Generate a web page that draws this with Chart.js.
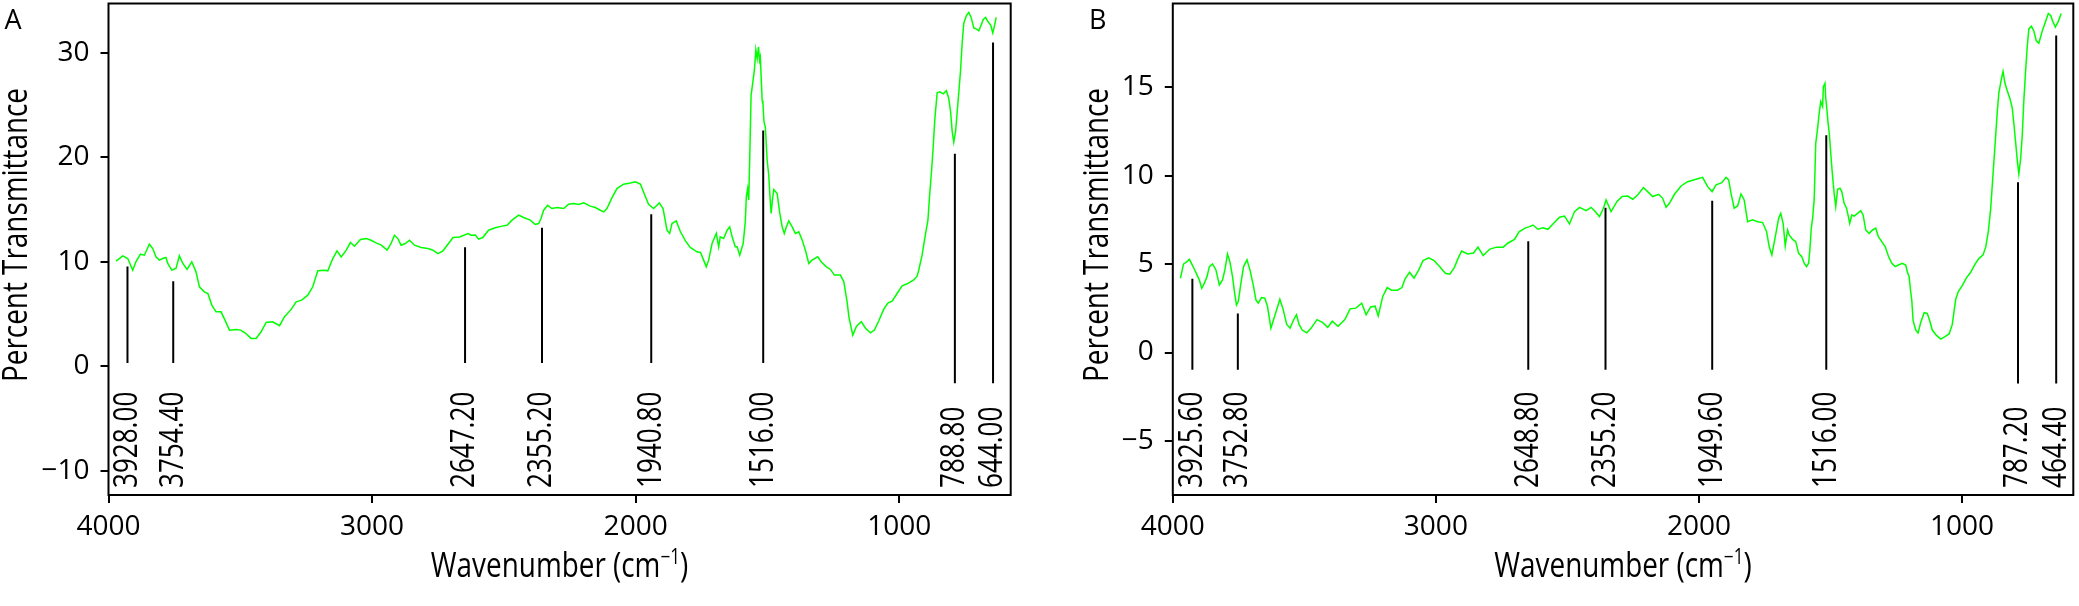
<!DOCTYPE html>
<html>
  <head>
    <meta charset="utf-8" />
    <title>IR spectra A and B</title>
    <style>
      body {
        margin: 0;
        padding: 0;
        background: #fff;
      }
      #wrap {
        position: relative;
        width: 2079px;
        height: 606px;
      }
      canvas {
        position: absolute;
        top: 0;
      }
      #chartA { left: 0; }
      #chartB { left: 1040px; }
    </style>
    <script src="https://cdn.jsdelivr.net/npm/chart.js"></script>
  </head>
  <body>
    <div id="wrap">
      <canvas id="chartA" width="1040" height="606"></canvas>
      <canvas id="chartB" width="1039" height="606"></canvas>
    </div>
    <script>
      // x axis tick values shared by both panels
      const waveTicks = [4000, 3000, 2000, 1000];

      // Panel A spectrum (wavenumber, % transmittance)
      const waveA = [
        3971, 3946, 3927, 3908, 3896, 3879, 3864, 3845, 3832, 3820,
        3807, 3794, 3782, 3775, 3760, 3744, 3731, 3718, 3702, 3684,
        3668, 3655, 3636, 3623, 3608, 3592, 3573, 3558, 3541, 3516,
        3499, 3482, 3459, 3440, 3421, 3402, 3377, 3351, 3332, 3307,
        3288, 3267, 3244, 3225, 3206, 3181, 3168, 3149, 3133, 3117,
        3098, 3082, 3067, 3044, 3022, 3004, 2985, 2965, 2943, 2928,
        2915, 2902, 2890, 2874, 2858, 2839, 2814, 2788, 2769, 2750,
        2731, 2712, 2693, 2668, 2636, 2624, 2608, 2596, 2580, 2558,
        2533, 2507, 2488, 2469, 2444, 2425, 2400, 2381, 2368, 2359,
        2349, 2334, 2318, 2296, 2273, 2254, 2235, 2216, 2197, 2172,
        2153, 2134, 2121, 2109, 2090, 2071, 2046, 2020, 2001, 1982,
        1970, 1951, 1932, 1910, 1896, 1881, 1871, 1862, 1846, 1830,
        1811, 1793, 1767, 1754, 1742, 1732, 1723, 1710, 1694, 1685,
        1679, 1666, 1653, 1643, 1634, 1622, 1615, 1605, 1592, 1584,
        1580, 1575, 1571, 1567, 1562, 1554, 1549, 1544, 1539, 1534,
        1530, 1527, 1520, 1517, 1513, 1508, 1501, 1495, 1491, 1486,
        1481, 1476, 1463, 1453, 1444, 1436, 1428, 1419, 1406, 1394,
        1381, 1368, 1356, 1343, 1331, 1309, 1296, 1276, 1261, 1246,
        1223, 1210, 1203, 1198, 1191, 1185, 1176, 1162, 1144, 1128,
        1109, 1094, 1077, 1058, 1043, 1027, 1008, 989, 970, 945,
        932, 926, 913, 900, 891, 884, 877, 871, 865, 856,
        846, 833, 821, 812, 805, 799, 793, 786, 780, 774,
        767, 761, 755, 745, 736, 727, 717, 707, 698, 691,
        681, 672, 664, 653, 645, 638, 632
      ];
      const transA = [
        10.06, 10.57, 10.31, 9.2, 10.0, 10.73, 10.63, 11.68, 11.27, 10.47,
        10.16, 10.31, 10.41, 9.84, 9.2, 9.36, 10.57, 9.84, 9.27, 10.0,
        9.04, 7.61, 7.13, 6.97, 5.86, 5.22, 5.22, 4.43, 3.47, 3.54,
        3.47, 3.22, 2.68, 2.68, 3.31, 4.2, 4.27, 3.89, 4.75, 5.45,
        6.18, 6.34, 6.81, 7.61, 9.14, 9.2, 9.14, 10.31, 11.05, 10.47,
        11.11, 11.84, 11.49, 12.13, 12.22, 12.06, 11.81, 11.59, 11.11, 11.75,
        12.54, 12.22, 11.59, 11.75, 12.06, 11.59, 11.36, 11.27, 11.11, 10.79,
        11.05, 11.68, 12.32, 12.38, 12.7, 12.54, 12.55, 12.16, 12.32, 13.02,
        13.25, 13.41, 13.5, 13.98, 14.46, 14.23, 13.98, 13.57, 13.66, 14.14,
        14.93, 15.41, 15.09, 15.19, 15.09, 15.5, 15.57, 15.47, 15.63, 15.32,
        15.19, 14.93, 14.77, 15.09, 16.11, 17.0, 17.42, 17.54, 17.64, 17.42,
        16.68, 15.5, 15.09, 15.63, 15.09, 13.02, 12.71, 13.66, 13.91, 12.87,
        12.0, 11.37, 10.96, 10.89, 10.16, 9.52, 10.16, 11.75, 12.71, 11.43,
        12.39, 12.23, 13.02, 13.34, 12.39, 11.43, 11.43, 10.64, 11.75, 13.82,
        16.21, 17.0, 15.89, 20.02, 25.91, 27.41, 28.46, 30.27, 29.41, 30.53,
        29.25, 29.57, 25.43, 25.12, 23.37, 22.89, 19.71, 18.27, 16.52, 14.62,
        15.89, 16.91, 16.52, 14.62, 13.34, 12.71, 13.34, 13.91, 13.34, 12.71,
        12.87, 12.07, 11.11, 9.84, 10.16, 10.48, 10.0, 9.52, 9.27, 8.73,
        8.73, 8.09, 6.98, 6.24, 4.76, 4.02, 2.99, 3.84, 4.28, 3.65,
        3.21, 3.47, 4.39, 5.5, 6.05, 6.24, 6.97, 7.71, 7.9, 8.27,
        8.63, 9.19, 10.66, 12.69, 13.99, 16.57, 18.78, 21.0, 23.58, 26.16,
        26.24, 26.05, 26.35, 25.61, 24.32, 22.47, 21.44, 22.47, 24.32, 26.16,
        28.38, 30.96, 32.8, 33.54, 33.84, 33.36, 32.36, 32.25, 32.07, 32.51,
        33.17, 33.36, 32.99, 32.62, 31.88, 32.62, 33.36
      ];
      // Panel A peak markers
      const peakPosA = [3928, 3754.4, 2647.2, 2355.2, 1940.8, 1516, 788.8, 644];
      const peakTopA = [9.56, 8.15, 11.4, 13.25, 14.54, 22.55, 20.33, 30.96];
      const peakBottomA = [0.33, 0.33, 0.33, 0.33, 0.33, 0.33, -1.62, -1.62];
      const peakTextA = ["3928.00", "3754.40", "2647.20", "2355.20", "1940.80", "1516.00", "788.80", "644.00"];

      // Panel B spectrum
      const waveB = [
        3971, 3959, 3946, 3937, 3928, 3918, 3908, 3899, 3890, 3880,
        3870, 3861, 3849, 3836, 3823, 3811, 3802, 3792, 3783, 3773,
        3764, 3758, 3751, 3741, 3731, 3718, 3706, 3693, 3684, 3675,
        3663, 3650, 3640, 3627, 3618, 3604, 3593, 3581, 3567, 3554,
        3542, 3530, 3520, 3508, 3491, 3474, 3452, 3431, 3411, 3394,
        3372, 3346, 3326, 3304, 3282, 3265, 3248, 3231, 3219, 3202,
        3185, 3168, 3146, 3129, 3117, 3100, 3083, 3066, 3049, 3027,
        3007, 2986, 2964, 2947, 2930, 2913, 2902, 2879, 2857, 2840,
        2820, 2795, 2769, 2744, 2727, 2701, 2684, 2659, 2644, 2631,
        2612, 2593, 2574, 2555, 2530, 2511, 2492, 2473, 2454, 2429,
        2410, 2397, 2378, 2363, 2353, 2334, 2312, 2292, 2271, 2252,
        2233, 2211, 2195, 2176, 2153, 2138, 2125, 2112, 2093, 2068,
        2043, 2011, 1986, 1967, 1950, 1935, 1913, 1897, 1887, 1878,
        1866, 1853, 1840, 1828, 1815, 1796, 1777, 1758, 1743, 1733,
        1723, 1714, 1705, 1697, 1689, 1680, 1672, 1663, 1657, 1644,
        1632, 1621, 1609, 1600, 1591, 1583, 1578, 1573, 1568, 1562,
        1556, 1549, 1543, 1537, 1530, 1527, 1521, 1518, 1514, 1509,
        1504, 1499, 1492, 1486, 1480, 1473, 1464, 1457, 1448, 1439,
        1432, 1427, 1419, 1410, 1397, 1385, 1376, 1366, 1353, 1340,
        1328, 1318, 1305, 1292, 1280, 1267, 1254, 1242, 1227, 1214,
        1208, 1201, 1196, 1191, 1186, 1176, 1167, 1157, 1144, 1132,
        1123, 1113, 1098, 1081, 1065, 1049, 1037, 1024, 1014, 999,
        984, 967, 951, 936, 920, 910, 900, 891, 885, 879,
        872, 866, 860, 849, 844, 837, 828, 818, 809, 803,
        796, 790, 784, 777, 771, 765, 758, 752, 746, 736,
        727, 718, 708, 695, 682, 672, 663, 655, 645, 634,
        623
      ];
      const transB = [
        4.2, 5.01, 5.14, 5.27, 5.01, 4.71, 4.39, 4.1, 3.63, 3.92,
        4.29, 4.86, 5.01, 4.67, 3.82, 4.1, 4.67, 5.57, 5.14, 4.29,
        3.26, 2.69, 2.88, 3.92, 4.86, 5.24, 4.63, 3.73, 2.97, 2.79,
        3.11, 3.07, 2.6, 1.38, 1.81, 2.47, 3.01, 2.47, 1.59, 1.38,
        1.81, 2.14, 1.59, 1.27, 1.11, 1.38, 1.86, 1.7, 1.42, 1.77,
        1.48, 1.86, 2.47, 2.51, 2.79, 2.14, 2.58, 2.62, 2.07, 3.17,
        3.67, 3.52, 3.52, 3.67, 4.17, 4.54, 4.21, 4.65, 5.2, 5.35,
        5.2, 4.87, 4.48, 4.43, 4.8, 5.41, 5.74, 5.57, 5.63, 5.96,
        5.48, 5.85, 5.96, 5.96, 6.18, 6.4, 6.83, 7.05, 7.12, 7.21,
        6.97, 7.06, 6.97, 7.27, 7.65, 7.72, 7.27, 7.97, 8.21, 8.02,
        8.21, 8.02, 7.69, 8.16, 8.63, 7.97, 8.53, 8.82, 8.85, 8.67,
        8.91, 9.33, 9.1, 8.82, 8.95, 8.72, 8.21, 8.44, 8.95, 9.42,
        9.66, 9.8, 9.91, 9.38, 9.1, 9.48, 9.61, 9.91, 9.76, 9.0,
        8.16, 8.29, 8.97, 8.63, 7.4, 7.5, 7.4, 7.35, 6.84, 5.99,
        5.52, 6.21, 6.93, 7.59, 7.87, 7.31, 6.03, 6.93, 6.65, 6.4,
        6.27, 5.61, 5.42, 5.05, 4.86, 5.05, 5.89, 7.03, 7.59, 8.63,
        11.83, 12.68, 13.53, 14.19, 13.91, 15.04, 15.23, 14.38, 13.81, 12.96,
        12.3, 11.27, 9.95, 9.0, 8.25, 9.23, 9.29, 9.1, 8.44, 8.16,
        7.69, 7.31, 7.78, 7.72, 7.87, 8.02, 7.78, 6.93, 6.74, 6.93,
        7.03, 6.55, 6.27, 5.99, 5.46, 5.05, 4.86, 4.95, 5.05, 4.95,
        4.57, 4.29, 3.54, 2.97, 1.81, 1.27, 1.11, 1.7, 2.25, 2.21,
        1.81, 1.27, 0.98, 0.76, 0.9, 1.05, 1.59, 3.01, 3.45, 3.78,
        4.21, 4.54, 4.98, 5.31, 5.52, 5.96, 6.83, 8.14, 9.45, 10.76,
        12.29, 13.6, 14.69, 15.57, 15.9, 15.24, 14.8, 14.37, 13.82, 12.95,
        11.86, 10.87, 10.11, 10.98, 12.29, 14.26, 16.0, 17.31, 18.3, 18.45,
        18.19, 17.64, 17.49, 18.19, 18.73, 19.17, 19.06, 18.73, 18.41, 18.73,
        19.17
      ];
      // Panel B peak markers (the last marker sits near 642 on the axis)
      const peakPosB = [3925.6, 3752.8, 2648.8, 2355.2, 1949.6, 1516, 787.2, 642];
      const peakTopB = [4.17, 2.21, 6.29, 8.19, 8.58, 12.29, 9.63, 17.93];
      const peakBottomB = [-0.98, -0.98, -0.98, -0.98, -0.98, -0.98, -1.75, -1.75];
      const peakTextB = ["3925.60", "3752.80", "2648.80", "2355.20", "1949.60", "1516.00", "787.20", "464.40"];

      const FONT = '"Open Sans", "Noto Sans", sans-serif';

      function makeDecor(cfg) {
        return {
          id: "decor",
          afterDatasetsDraw(chart) {
            const { ctx, chartArea: a, scales } = chart;
            const x = scales.x;
            ctx.save();
            ctx.strokeStyle = "#000";
            ctx.lineWidth = 2;
            ctx.strokeRect(a.left, a.top, a.right - a.left, a.bottom - a.top);

            // rotated peak labels
            ctx.fillStyle = "#000";
            ctx.font = "33px " + FONT;
            ctx.textAlign = "left";
            ctx.textBaseline = "middle";
            cfg.peakPos.forEach((p, i) => {
              ctx.save();
              ctx.translate(x.getPixelForValue(p), a.bottom - 7);
              ctx.rotate(-Math.PI / 2);
              ctx.scale(0.79, 1);
              ctx.fillText(cfg.peakText[i], 0, 0);
              ctx.restore();
            });

            // y title
            ctx.save();
            ctx.font = "34px " + FONT;
            ctx.textAlign = "center";
            ctx.textBaseline = "alphabetic";
            ctx.translate(cfg.yTitleX, 235);
            ctx.rotate(-Math.PI / 2);
            ctx.scale(0.82, 1);
            ctx.fillText("Percent Transmittance", 0, 0);
            ctx.restore();

            // x title with superscript
            ctx.save();
            ctx.textBaseline = "alphabetic";
            ctx.textAlign = "left";
            const big = "34px " + FONT, small = "21px " + FONT;
            const p1 = "Wavenumber (cm", p2 = "\u22121", p3 = ")";
            ctx.font = big;
            const w1 = ctx.measureText(p1).width, w3 = ctx.measureText(p3).width;
            ctx.font = small;
            const w2 = ctx.measureText(p2).width;
            const sx = 0.82;
            const total = (w1 + w2 + w3) * sx;
            ctx.translate((a.left + a.right) / 2 - total / 2, 577);
            ctx.scale(sx, 1);
            ctx.font = big;
            ctx.fillText(p1, 0, 0);
            ctx.font = small;
            ctx.fillText(p2, w1, -13);
            ctx.font = big;
            ctx.fillText(p3, w1 + w2, 0);
            ctx.restore();

            // panel letter
            ctx.font = "27px " + FONT;
            ctx.textAlign = "left";
            ctx.textBaseline = "alphabetic";
            ctx.fillText(cfg.letter, cfg.letterX, 29);
            ctx.restore();
          },
        };
      }

      function makeChart(id, cfg) {
        const spectrum = cfg.wave.map((w, i) => ({ x: w, y: cfg.trans[i] }));
        const marks = [];
        cfg.peakPos.forEach((p, i) => {
          marks.push({ x: p, y: cfg.peakBottom[i] }, { x: p, y: cfg.peakTop[i] }, { x: p, y: null });
        });
        const tickGrid = {
          drawOnChartArea: false,
          drawTicks: true,
          tickLength: 8,
          color: "#000",
          lineWidth: 2,
        };
        return new Chart(document.getElementById(id), {
          type: "line",
          data: {
            datasets: [
              {
                label: "peaks",
                data: marks,
                borderColor: "#000",
                borderWidth: 2,
                pointRadius: 0,
                spanGaps: false,
              },
              {
                label: "spectrum",
                data: spectrum,
                borderColor: "rgb(0, 255, 0)",
                borderWidth: 1.5,
                pointRadius: 0,
                tension: 0,
              },
            ],
          },
          options: {
            responsive: false,
            animation: false,
            events: [],
            layout: { padding: { top: 3.5, right: cfg.padRight, left: 0, bottom: 0 } },
            plugins: { legend: { display: false }, tooltip: { enabled: false } },
            scales: {
              x: {
                type: "linear",
                reverse: true,
                min: 577,
                max: 4000,
                border: { display: false },
                grid: tickGrid,
                afterBuildTicks: (s) => {
                  s.ticks = waveTicks.map((v) => ({ value: v }));
                },
                ticks: {
                  autoSkip: false,
                  maxRotation: 0,
                  padding: 7,
                  color: "#000",
                  font: { family: FONT, size: 28 },
                  callback: (v) => String(v),
                },
                afterFit: (s) => {
                  s.height = 111;
                  s.paddingLeft = 0;
                  s.paddingRight = 0;
                },
              },
              y: {
                type: "linear",
                min: cfg.yMin,
                max: cfg.yMax,
                border: { display: false },
                grid: tickGrid,
                afterBuildTicks: (s) => {
                  s.ticks = cfg.yTicks.map((v) => ({ value: v }));
                },
                ticks: {
                  padding: 11,
                  color: "#000",
                  font: { family: FONT, size: 28 },
                  callback: (v) => (v < 0 ? "\u2212" + Math.abs(v) : String(v)),
                },
                afterFit: (s) => {
                  s.width = cfg.axisLeft;
                  s.paddingTop = 0;
                  s.paddingBottom = 0;
                },
              },
            },
          },
          plugins: [makeDecor(cfg)],
        });
      }

      makeChart("chartA", {
        wave: waveA, trans: transA,
        peakPos: peakPosA, peakTop: peakTopA, peakBottom: peakBottomA, peakText: peakTextA,
        yMin: -12.29, yMax: 34.69, yTicks: [-10, 0, 10, 20, 30],
        axisLeft: 108.5, padRight: 29.3,
        yTitleX: 27, letter: "A", letterX: 4.5,
      });
      makeChart("chartB", {
        wave: waveB, trans: transB,
        peakPos: peakPosB, peakTop: peakTopB, peakBottom: peakBottomB, peakText: peakTextB,
        yMin: -8.06, yMax: 19.74, yTicks: [-5, 0, 5, 10, 15],
        axisLeft: 132.8, padRight: 5.7,
        yTitleX: 68, letter: "B", letterX: 49,
      });
    </script>
  </body>
</html>
